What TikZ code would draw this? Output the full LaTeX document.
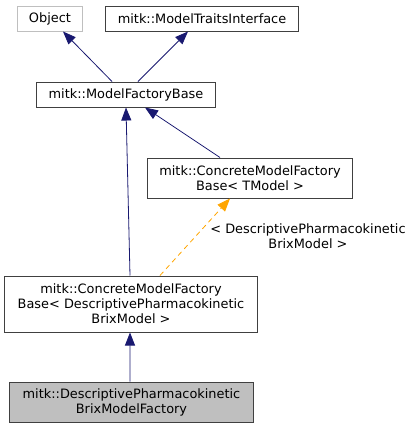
\documentclass[tikz,border=0pt]{standalone}
\usepackage{fontspec}
\setmainfont{DejaVu Sans}
\usetikzlibrary{arrows.meta,calc}
\definecolor{edgeblue}{HTML}{191970}
\definecolor{boxgray}{HTML}{BFBFBF}
\definecolor{boxline}{HTML}{404040}
\definecolor{tmplorange}{HTML}{FFA500}
\begin{document}
\begin{tikzpicture}[x=1bp,y=-1bp,
  every node/.style={font=\fontsize{12.9bp}{15bp}\selectfont, inner sep=0pt, align=center},
  cls/.style={draw=boxline, line width=1bp, fill=white, minimum height=#1, anchor=center},
  cls/.default=25bp,
  inh/.style={draw=edgeblue, line width=0.8bp, -{Triangle[length=13bp,width=10bp]}},
  tpl/.style={draw=tmplorange, line width=0.8bp, dash pattern=on 5bp off 4bp, -{Triangle[length=13bp,width=10bp,fill=tmplorange]}}
]
\useasboundingbox (0,0) rectangle (413,428);
\node[cls, draw=boxgray, minimum width=64bp] (obj) at (50,18.5) {Object};
\node[cls, minimum width=192bp] (mti) at (202,18.5) {mitk::ModelTraitsInterface};
\node[cls, minimum width=178bp] (mfb) at (126,94.5) {mitk::ModelFactoryBase};
\node[cls=40bp, minimum width=204bp] (tm) at (250,178) {mitk::ConcreteModelFactory\\Base< TModel >};
\node[cls=56bp, minimum width=252bp] (desc) at (131,304) {mitk::ConcreteModelFactory\\Base< DescriptivePharmacokinetic\\BrixModel >};
\node[cls=40bp, fill=boxgray, minimum width=243bp] (fac) at (131.5,402) {mitk::DescriptivePharmacokinetic\\BrixModelFactory};
\node (lbl) at (308,236) {< DescriptivePharmacokinetic\\BrixModel >};
\draw[inh] ([xshift=-14bp]mfb.north) -- ([xshift=13bp]obj.south);
\draw[inh] ([xshift=12bp]mfb.north) -- ([xshift=-14bp]mti.south);
\draw[inh] ([xshift=-30bp]tm.north) -- ([xshift=19bp]mfb.south);
\draw[inh] ([xshift=-1bp]desc.north) -- (mfb.south);
\draw[tpl] ([xshift=29bp]desc.north) -- ([xshift=-20bp]tm.south);
\draw[inh] ([xshift=-1.5bp]fac.north) -- ([xshift=-1bp]desc.south);
\end{tikzpicture}
\end{document}
